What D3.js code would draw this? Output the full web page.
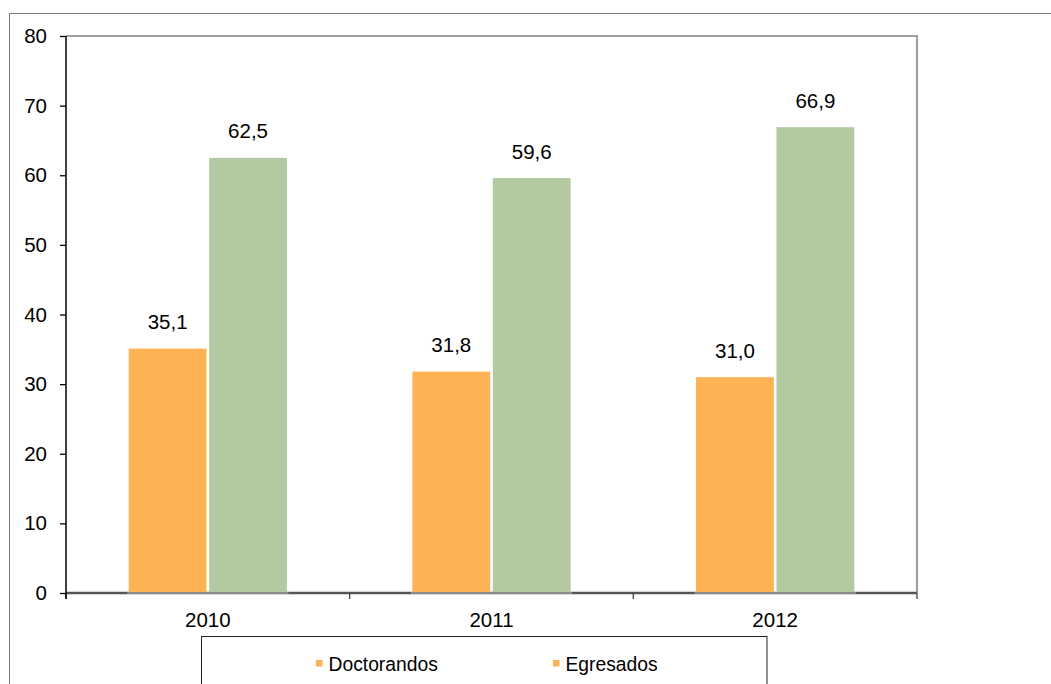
<!DOCTYPE html>
<html>
<head>
<meta charset="utf-8">
<script src="https://cdn.jsdelivr.net/npm/d3@7"></script>
<style>
  html, body { margin: 0; padding: 0; background: #fff; }
  svg { display: block; font-family: "Liberation Sans", Arial, sans-serif; }
</style>
</head>
<body>
<svg id="chart" width="1051" height="684"></svg>
<script>
const categories = ["2010", "2011", "2012"];
const seriesNames = ["Doctorandos", "Egresados"];
const doctorandos = [35.1, 31.8, 31.0];
const egresados = [62.5, 59.6, 66.9];
const yTicks = [0, 10, 20, 30, 40, 50, 60, 70, 80];
const seriesColors = ["#FDB254", "#B2C9A2"];
const legendColors = ["#FDB254", "#FDB254"];

const svg = d3.select("#chart");
const W = 1051, H = 684;
const plot = { left: 66, right: 917, top: 36, bottom: 593 };
const fsNum = 20.5;
const fsLegend = 19.3;

// outer frame
svg.append("rect").attr("x", 9.5).attr("y", 13.5)
  .attr("width", W + 10).attr("height", H + 10)
  .attr("fill", "none").attr("stroke", "#7a7a7a").attr("stroke-width", 1);

const x = d3.scaleBand().domain(categories).range([plot.left, plot.right]).padding(0);
const y = d3.scaleLinear().domain([0, 80]).range([plot.bottom, plot.top]);
const inner = d3.scaleBand().domain(seriesNames).range([0, x.bandwidth()])
  .paddingInner(0.033).paddingOuter(0.78);

// plot area top and right border
svg.append("path")
  .attr("d", `M${plot.left},${plot.top} H${plot.right} V${plot.bottom}`)
  .attr("fill", "none").attr("stroke", "#a0a0a0").attr("stroke-width", 2.2);

// x axis line (drawn before bars so bar bases overlay lighter)
const xAxis = svg.append("g").attr("transform", `translate(0,${plot.bottom})`);
xAxis.append("line").attr("x1", plot.left).attr("x2", plot.right)
  .attr("y1", 0).attr("y2", 0).attr("stroke", "#555").attr("stroke-width", 2.6);

// bars
const data = categories.map((c, i) => ({ cat: c, vals: [doctorandos[i], egresados[i]] }));
const groups = svg.append("g").selectAll("g").data(data).join("g")
  .attr("transform", d => `translate(${x(d.cat)},0)`);
groups.selectAll("rect.bar").data(d => d.vals.map((v, j) => ({ v, s: seriesNames[j], j })))
  .join("rect").attr("class", "bar")
  .attr("x", d => inner(d.s))
  .attr("y", d => y(d.v))
  .attr("width", inner.bandwidth())
  .attr("height", d => y(0) - y(d.v))
  .attr("fill", d => seriesColors[d.j]);
// lighter axis segment under the bars
groups.selectAll("line.base").data(d => d.vals.map((v, j) => ({ v, s: seriesNames[j] })))
  .join("line").attr("class", "base")
  .attr("x1", d => inner(d.s) - 1.5).attr("x2", d => inner(d.s) + inner.bandwidth() + 1.5)
  .attr("y1", y(0)).attr("y2", y(0))
  .attr("stroke", "#8c8c8c").attr("stroke-width", 2.2);
groups.selectAll("text").data(d => d.vals.map((v, j) => ({ v, s: seriesNames[j] })))
  .join("text")
  .attr("x", d => inner(d.s) + inner.bandwidth() / 2)
  .attr("y", d => y(d.v) - 19.5)
  .attr("text-anchor", "middle")
  .attr("font-size", fsNum)
  .attr("fill", "#000")
  .text(d => d3.format(".1f")(d.v).replace(".", ","));

// y axis
const yAxis = svg.append("g").attr("transform", `translate(${plot.left},0)`)
  .call(d3.axisLeft(y).tickValues(yTicks).tickSize(6).tickPadding(13).tickFormat(d3.format("d")));
yAxis.select(".domain").attr("stroke", "#000").attr("stroke-width", 1.5)
  .attr("d", `M0,${plot.top}V${plot.bottom + 6}`);
yAxis.selectAll(".tick line").attr("stroke", "#000").attr("stroke-width", 1.3);
yAxis.selectAll(".tick text").attr("font-size", fsNum).attr("fill", "#000")
  .attr("font-family", "Liberation Sans, Arial, sans-serif");

// x axis ticks and labels
const boundaries = categories.map(c => x(c)).concat([plot.right]);
xAxis.selectAll("line.tk").data(boundaries).join("line").attr("class", "tk")
  .attr("x1", d => d).attr("x2", d => d).attr("y1", 0).attr("y2", 6)
  .attr("stroke", "#444").attr("stroke-width", 1.3);
xAxis.selectAll("text").data(categories).join("text")
  .attr("x", d => x(d) + x.bandwidth() / 2)
  .attr("y", 34)
  .attr("text-anchor", "middle")
  .attr("font-size", fsNum)
  .attr("fill", "#000")
  .text(d => d);

// legend
const lg = svg.append("g");
lg.append("rect").attr("x", 201.5).attr("y", 636.5)
  .attr("width", 565.5).attr("height", 60)
  .attr("fill", "#fff").attr("stroke", "#222").attr("stroke-width", 1);
const legendX = [316, 553];
seriesNames.forEach((s, i) => {
  lg.append("rect").attr("x", legendX[i]).attr("y", 660).attr("width", 6.5).attr("height", 6.5)
    .attr("fill", legendColors[i]);
  lg.append("text").attr("x", legendX[i] + 12.5).attr("y", 670.5)
    .attr("font-size", fsLegend).attr("fill", "#000").text(s);
});
</script>
</body>
</html>
